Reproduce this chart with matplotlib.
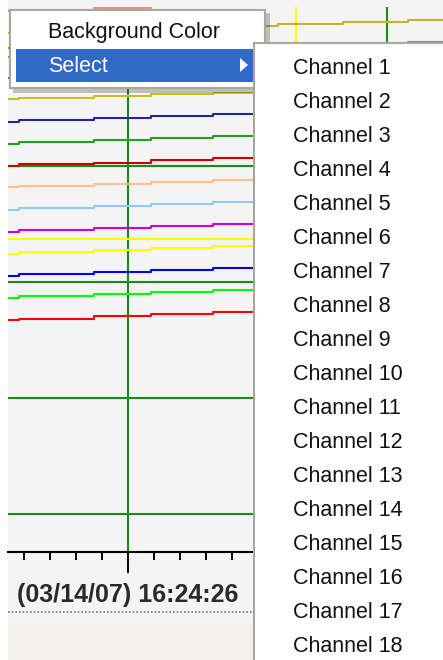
import numpy as np
import matplotlib
matplotlib.use("Agg")
import matplotlib.pyplot as plt
from matplotlib.patches import Rectangle, Polygon
from matplotlib.ticker import MultipleLocator

# data: seconds relative to 16:24:26, one value per sample (step plot)
times = [-6.6, -4.2, -1.3, 0.9, 3.3, 5.8, 8.3, 10.8, 13.3]

pink = [106.7, 106.9, 107.3, 107.8, 108.1, 108.4, 108.8, 109.1]
gold = [102.9, 103.3, 103.6, 104.0, 104.2, 104.5, 104.8, 105.2]
green_top = [100.3, 100.5, 100.7, 100.9, 100.9, 101.0, 101.0, 101.0]
steel = [98.8, 99.1, 99.5, 99.8, 100.2, 100.5, 100.9, 101.4]
purple = [95.2, 95.5, 95.9, 96.2, 96.6, 96.9, 97.2, 97.6]
olive = [91.5, 91.8, 92.1, 92.4, 92.6, 92.9, 93.2, 93.5]
navy = [87.6, 87.9, 88.3, 88.6, 89.0, 89.3, 89.7, 90.0]
green = [83.8, 84.1, 84.5, 84.9, 85.2, 85.6, 85.9, 86.3]
dark_red = [80.05, 80.3, 80.6, 81.0, 81.4, 81.7, 82.1, 82.4]
orange = [76.3, 76.6, 76.9, 77.2, 77.6, 77.9, 78.3, 78.6]
sky = [72.4, 72.7, 73.1, 73.4, 73.8, 74.1, 74.5, 74.8]
magenta = [68.6, 69.0, 69.3, 69.7, 70.0, 70.3, 70.7, 71.0]
limit = [67.5, 67.5, 67.5, 67.5, 67.5, 67.5, 67.5, 67.5]
yellow = [64.8, 65.2, 65.5, 65.9, 66.2, 66.6, 66.9, 67.2]
blue = [61.0, 61.4, 61.7, 62.1, 62.4, 62.8, 63.1, 63.4]
lime = [57.2, 57.6, 57.9, 58.3, 58.6, 59.0, 59.3, 59.7]
red = [53.4, 53.7, 54.1, 54.5, 54.8, 55.2, 55.5, 55.9]

series = [
    (pink, '#f08a8a'), (gold, '#c8b22c'), (green_top, '#22a022'),
    (steel, '#5b8fd0'), (purple, '#a020c0'), (olive, '#c8c020'),
    (navy, '#2424a0'), (green, '#22a022'), (dark_red, '#c80000'),
    (orange, '#ffc090'), (sky, '#90c8ff'), (magenta, '#d000d0'),
    (limit, '#ffff00'), (yellow, '#ffff00'), (blue, '#0000ff'),
    (lime, '#00ff00'), (red, '#ff0000'),
]

grid_y = [20, 40, 60, 80]
grid_t = [0, 10]
cursor_t = 6.5
# the 16:24:36 label sits under the popup, so only the first one shows
tick_labels = ['(03/14/07) 16:24:26', '']
menu_items = ['Background Color', 'Select']
channels = ['Channel %d' % i for i in range(1, 19)]

W, H = 443, 660
SEC_PX, UNIT_PX = 25.9, 5.8   # pixel scale of the chart


def box(x0, y0, x1, y1):
    return [x0 / W, 1 - y1 / H, (x1 - x0) / W, (y1 - y0) / H]


plt.rcParams['font.family'] = ['Liberation Sans', 'DejaVu Sans']
fig = plt.figure(figsize=(W / 100, H / 100), dpi=100, facecolor='white')

# window panel behind the chart
fig.add_artist(Rectangle((8 / W, 37 / H), 1, 1, transform=fig.transFigure,
                         facecolor='#f4f4f4', edgecolor='none', zorder=-2))
fig.add_artist(Rectangle((8 / W, 0), 1, 37 / H, transform=fig.transFigure,
                         facecolor='#f3f1e9', edgecolor='none', zorder=-1))

ax = fig.add_axes(box(8, 6.5, 443, 552))
ax.set_facecolor('#f4f4f4')
ax.set_xlim((8 - 128) / SEC_PX, (443 - 128) / SEC_PX)
ax.set_ylim(80 - (552 - 166) / UNIT_PX, 80 + (166 - 6.5) / UNIT_PX)

for y in grid_y:
    ax.axhline(y, color='#1a8c1a', lw=1.5, zorder=1)
for t in grid_t:
    ax.axvline(t, color='#1a8c1a', lw=1.5, zorder=1)
ax.axvline(cursor_t, color='#ffff00', lw=1.5, zorder=1)

for vals, col in series:
    ax.step(times, vals + [vals[-1]], where='post', color=col, lw=1.5, zorder=2)

for s in ['top', 'left', 'right']:
    ax.spines[s].set_visible(False)
ax.spines['bottom'].set_linewidth(1.5)
ax.set_yticks([])
ax.set_xticks(grid_t)
ax.set_xticklabels(tick_labels, fontsize=18, fontweight='bold', color='#2a2a2a')
ax.xaxis.set_minor_locator(MultipleLocator(1))
ax.tick_params(axis='x', which='major', direction='out', length=15, width=1.4, pad=7)
ax.tick_params(axis='x', which='minor', direction='out', length=5.8, width=1.4)

# popup menus drawn on top, in pixel coordinates
ov = fig.add_axes([0, 0, 1, 1], zorder=10)
ov.set_xlim(0, W)
ov.set_ylim(H, 0)
ov.axis('off')
ov.patch.set_alpha(0)

ov.plot([8, 254], [612, 612], color='#777777', lw=1.2, ls=(0, (1, 1.2)))

ov.add_patch(Rectangle((13, 13), 257, 80, facecolor='#000000', alpha=0.22, edgecolor='none'))
ov.add_patch(Rectangle((10, 10), 255, 78, facecolor='white', edgecolor='#aca899', lw=1.5))
ov.add_patch(Rectangle((16, 49), 238, 33, facecolor='#316ac5', edgecolor='none'))
ov.text(48, 38, menu_items[0], fontsize=15.5, color='#111111', va='baseline')
ov.text(48, 72.5, menu_items[1], fontsize=15.5, color='white', va='baseline')
ov.add_patch(Polygon([(240, 58), (240, 72), (248, 65)], closed=True, facecolor='white', edgecolor='none'))

ov.add_patch(Rectangle((254, 42.5), 220, 640, facecolor='white', edgecolor='#aca899', lw=1.5))
for i, name in enumerate(channels):
    ov.text(293, 74 + 34 * i, name, fontsize=15.5, color='#111111', va='baseline')

fig.savefig('out.png', dpi=100)
